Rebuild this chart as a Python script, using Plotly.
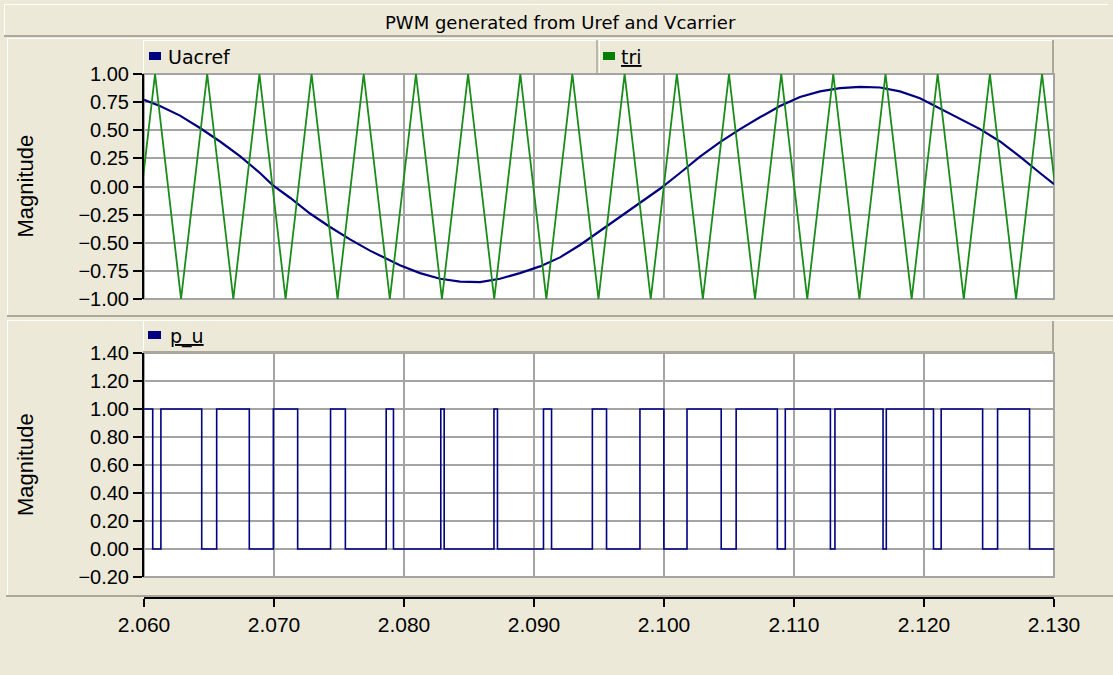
import plotly.graph_objects as go

# ---------------- data ----------------
# Uacref (modulating reference)
u_t = [2.06000, 2.06123, 2.06277, 2.06431, 2.06585, 2.06738, 2.06892, 2.06992,
       2.07123, 2.07277, 2.07431, 2.07585, 2.07738, 2.07892, 2.07969,
       2.08123, 2.08277, 2.08431, 2.08585, 2.08738, 2.08892, 2.09046, 2.09200,
       2.09354, 2.09508, 2.09662, 2.09815, 2.09969,
       2.10123, 2.10277, 2.10431, 2.10585, 2.10738, 2.10892, 2.11046, 2.11200,
       2.11354, 2.11508, 2.11662, 2.11815, 2.11969, 2.12123, 2.12277, 2.12431,
       2.12585, 2.12738, 2.12892, 2.13000]
u_v = [0.77, 0.715, 0.63, 0.52, 0.40, 0.27, 0.12, 0.01,
       -0.10, -0.24, -0.36, -0.47, -0.57, -0.66, -0.70,
       -0.77, -0.82, -0.845, -0.85, -0.82, -0.77, -0.71, -0.63,
       -0.52, -0.395, -0.27, -0.15, -0.02,
       0.12, 0.265, 0.395, 0.51, 0.615, 0.715, 0.795, 0.845,
       0.875, 0.885, 0.88, 0.845, 0.785, 0.695, 0.605, 0.51,
       0.40, 0.265, 0.12, 0.02]

# tri (carrier): turning points (troughs / peaks)
tri_t = [2.05885, 2.06085, 2.06285, 2.06486, 2.06687, 2.06888, 2.07089, 2.07289,
         2.07489, 2.07690, 2.07891, 2.08092, 2.08292, 2.08493, 2.08694, 2.08895,
         2.09095, 2.09295, 2.09496, 2.09697, 2.09898, 2.10099, 2.10299, 2.10500,
         2.10700, 2.10902, 2.11102, 2.11302, 2.11503, 2.11704, 2.11905, 2.12105,
         2.12306, 2.12507, 2.12708, 2.12908, 2.13108]
tri_v = [-1, 1, -1, 1, -1, 1, -1, 1, -1, 1, -1, 1, -1, 1, -1, 1, -1, 1, -1,
         1, -1, 1, -1, 1, -1, 1, -1, 1, -1, 1, -1, 1, -1, 1, -1, 1, -1]

# p_u (PWM output): switching instants and the level held after each
p_t = [2.06000, 2.06067, 2.06130, 2.06444, 2.06559, 2.06810, 2.06995, 2.07182,
       2.07435, 2.07549, 2.07863, 2.07919, 2.08283, 2.08309, 2.08692, 2.08719,
       2.09073, 2.09135, 2.09449, 2.09558, 2.09815, 2.09999, 2.10177, 2.10440,
       2.10555, 2.10872, 2.10933, 2.11280, 2.11315, 2.11685, 2.11710, 2.12073,
       2.12132, 2.12451, 2.12566, 2.12812, 2.13000]
p_v = [1, 0, 1, 0, 1, 0, 1, 0, 1, 0, 1, 0, 1, 0, 1, 0, 1, 0, 1, 0, 1, 0, 1, 0,
       1, 0, 1, 0, 1, 0, 1, 0, 1, 0, 1, 0, 0]

x_ticks = [2.06, 2.07, 2.08, 2.09, 2.10, 2.11, 2.12, 2.13]
x_labels = ["2.060", "2.070", "2.080", "2.090", "2.100", "2.110", "2.120", "2.130"]
top_ticks = [-1.0, -0.75, -0.5, -0.25, 0.0, 0.25, 0.5, 0.75, 1.0]
bot_ticks = [-0.2, 0.0, 0.2, 0.4, 0.6, 0.8, 1.0, 1.2, 1.4]

title_text = "PWM generated from Uref and Vcarrier"
series_names = ["Uacref", "tri", "p_u"]

# ---------------- styling ----------------
W, H = 1113, 675
BG = "#ECE9D8"
DARK = "#ACA899"
GRID = "#A4A4A4"
NAVY = "#000080"
GREEN = "#1A8C1A"
SANS = "Liberation Sans, Arial, sans-serif"
DJ = "DejaVu Sans, Verdana, sans-serif"


def px(x):
    return x / W


def py(y):
    return 1 - y / H


# plot areas in pixels
PL, PR = 144, 1054
T_TOP, T_BOT = 74, 299
B_TOP, B_BOT = 353, 577
XAXIS_Y = 598

fig = go.Figure()
fig.add_trace(go.Scatter(x=u_t, y=u_v, mode="lines", name=series_names[0],
                         line=dict(color=NAVY, width=2.2), xaxis="x", yaxis="y",
                         hoverinfo="skip"))
fig.add_trace(go.Scatter(x=tri_t, y=tri_v, mode="lines", name=series_names[1],
                         line=dict(color=GREEN, width=1.8), xaxis="x", yaxis="y",
                         hoverinfo="skip"))
fig.add_trace(go.Scatter(x=p_t, y=p_v, mode="lines", name=series_names[2],
                         line=dict(color=NAVY, width=1.6, shape="hv"),
                         xaxis="x2", yaxis="y2", hoverinfo="skip"))

common_x = dict(range=[2.06, 2.13], domain=[px(PL), px(PR)], tickvals=x_ticks,
                showgrid=True, gridcolor=GRID, gridwidth=2, zeroline=False,
                automargin=False)
common_y = dict(showgrid=True, gridcolor=GRID, gridwidth=2, zeroline=False,
                ticks="outside", ticklen=9, tickwidth=2, tickcolor="black",
                showline=True, linecolor="black", linewidth=2, automargin=False,
                tickfont=dict(family=SANS, size=20, color="black"))

fig.update_layout(
    width=W, height=H, margin=dict(l=0, r=0, t=0, b=0, autoexpand=False),
    paper_bgcolor=BG, plot_bgcolor="white", showlegend=False,
    xaxis=dict(**common_x, anchor="y", showticklabels=False, ticks="", showline=False),
    yaxis=dict(**common_y, domain=[py(T_BOT), py(T_TOP)], range=[-1, 1],
               tickvals=top_ticks, tickformat=".2f", anchor="x"),
    xaxis2=dict(**common_x, anchor="free", position=py(XAXIS_Y),
                ticktext=x_labels, ticks="outside", ticklen=8, tickwidth=2,
                tickcolor="black", showline=True, linecolor="black", linewidth=2,
                tickfont=dict(family=SANS, size=21, color="black")),
    yaxis2=dict(**common_y, domain=[py(B_BOT), py(B_TOP)], range=[-0.2, 1.4],
                tickvals=bot_ticks, tickformat=".2f", anchor="x2"),
)

shapes = []


def line(x0, y0, x1, y1, color, width=1):
    shapes.append(dict(type="line", xref="paper", yref="paper",
                       x0=px(x0), y0=py(y0), x1=px(x1), y1=py(y1),
                       line=dict(color=color, width=width), layer="above"))


def rect(x0, y0, x1, y1, fill, color=None, width=0, layer="above"):
    shapes.append(dict(type="rect", xref="paper", yref="paper",
                       x0=px(x0), y0=py(y0), x1=px(x1), y1=py(y1),
                       fillcolor=fill, line=dict(color=color or fill, width=width),
                       layer=layer))


# plot frames (gray border)
for top, bot in [(T_TOP, T_BOT), (B_TOP, B_BOT)]:
    shapes.append(dict(type="rect", xref="paper", yref="paper",
                       x0=px(PL), y0=py(bot), x1=px(PR), y1=py(top),
                       line=dict(color=GRID, width=2), fillcolor="rgba(0,0,0,0)",
                       layer="below"))

# title bar (raised)
line(4, 4.5, 1108, 4.5, "white", 1)
line(4.5, 4, 4.5, 36, "white", 1)
line(4, 36, 1113, 36, DARK, 2)

# upper panel frame
line(7, 38.5, 1113, 38.5, "white", 1)
line(7.5, 38, 7.5, 316, "white", 1)
line(7, 316, 1113, 316, DARK, 2)

# lower panel frame
line(7, 320.5, 1113, 320.5, "white", 1)
line(7.5, 320, 7.5, 596, "white", 1)
line(6, 596, 1113, 596, DARK, 2)

# legend bar, upper panel (two cells)
line(143.5, 40, 143.5, 73, "white", 1)
line(143, 40.5, 1053, 40.5, "white", 1)
line(1053, 40, 1053, 74, DARK, 2)
line(597, 40, 597, 73, DARK, 1.5)
line(599.5, 40, 599.5, 73, "white", 1)

# legend bar, lower panel
line(143.5, 321, 143.5, 352, "white", 1)
line(1053, 321, 1053, 353, DARK, 2)
line(143, 352, 1053, 352, DARK, 2)

# legend swatches
rect(149, 52, 161, 60, NAVY)
rect(603, 52, 615, 60, "#008000")
rect(148, 331, 161, 339, NAVY)

fig.update_layout(shapes=shapes)

ann = [
    dict(text=title_text, x=px(560), y=py(22), font=dict(family=DJ, size=18, color="black"),
         xanchor="center", yanchor="middle"),
    dict(text=series_names[0], x=px(166), y=py(57), font=dict(family=DJ, size=19, color="black"),
         xanchor="left", yanchor="middle"),
    dict(text="<u>" + series_names[1] + "</u>", x=px(619), y=py(57),
         font=dict(family=DJ, size=19, color="black"), xanchor="left", yanchor="middle"),
    dict(text="<u>" + series_names[2] + "</u>", x=px(168), y=py(336),
         font=dict(family=DJ, size=19, color="black"), xanchor="left", yanchor="middle"),
    dict(text="Magnitude", x=px(25), y=py((T_TOP + T_BOT) / 2), textangle=-90,
         font=dict(family=SANS, size=22, color="black"), xanchor="center", yanchor="middle"),
    dict(text="Magnitude", x=px(25), y=py((B_TOP + B_BOT) / 2), textangle=-90,
         font=dict(family=SANS, size=22, color="black"), xanchor="center", yanchor="middle"),
]
for a in ann:
    a.update(xref="paper", yref="paper", showarrow=False)
fig.update_layout(annotations=ann)

fig.write_html("out.html")
